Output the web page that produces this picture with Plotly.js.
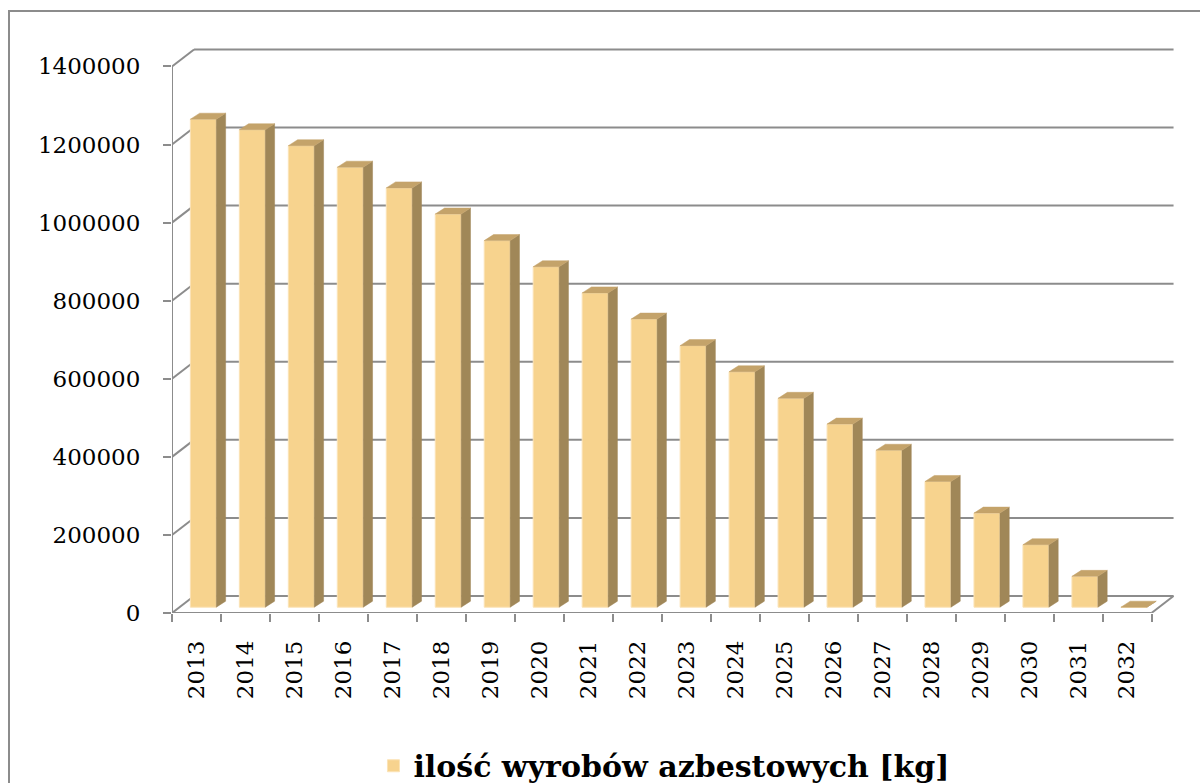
<!DOCTYPE html>
<html>
<head>
<meta charset="utf-8">
<script src="https://cdn.plot.ly/plotly-3.0.1.min.js"></script>
<style>
  html, body { margin: 0; padding: 0; background: #ffffff; overflow: hidden; }
  #chart { width: 1200px; height: 783px; position: relative; }
  #frame { position: absolute; left: 8px; top: 10px; width: 1300px; height: 900px;
           border: 2px solid #8c8c8c; pointer-events: none; }
</style>
</head>
<body>
<div id="chart"></div>
<div id="frame"></div>
<script>
// ---- data ----
const years = ['2013','2014','2015','2016','2017','2018','2019','2020','2021','2022',
               '2023','2024','2025','2026','2027','2028','2029','2030','2031','2032'];
const amounts = [1250000, 1223000, 1182000, 1127000, 1074000, 1007000, 939000, 872000, 805000, 738000,
                 670000, 603000, 535000, 469000, 402000, 322000, 241000, 160000, 79000, 0];
const yTickValues = [0, 200000, 400000, 600000, 800000, 1000000, 1200000, 1400000];
const seriesName = 'ilość wyrobów azbestowych [kg]';

// ---- pseudo-3D geometry (styles, in axis units) ----
const wallDx = 0.45, wallDy = 43500;        // depth of the floor / back wall
const barShift = 0.14, barBase = 14850;     // front face position of bars inside the depth
const barWidth = 0.53;
const barDx = 0.19, barDy = 15400;          // depth of a single bar
const gridColor = '#8c8c8c';
const frontColor = '#f7d38e', sideColor = '#a08758', topColor = '#c4a36a';

const idx = years.map((_, i) => i);
const xFirst = -0.5, xLast = years.length - 0.5;

// walls and grid as shapes below the traces
const shapes = [];
yTickValues.forEach(v => {
  shapes.push({type: 'line', layer: 'below', xref: 'x', yref: 'y',
    x0: xFirst + wallDx, y0: v + wallDy, x1: xLast + wallDx, y1: v + wallDy,
    line: {color: gridColor, width: 2}});
  shapes.push({type: 'line', layer: 'below', xref: 'x', yref: 'y',
    x0: xFirst, y0: v, x1: xFirst + wallDx, y1: v + wallDy,
    line: {color: gridColor, width: 2}});
});
const yMax = yTickValues[yTickValues.length - 1];
shapes.push({type: 'line', layer: 'below', xref: 'x', yref: 'y',
  x0: xFirst, y0: 0, x1: xFirst, y1: yMax, line: {color: gridColor, width: 2}});
shapes.push({type: 'line', layer: 'below', xref: 'x', yref: 'y',
  x0: xFirst, y0: 0, x1: xLast, y1: 0, line: {color: gridColor, width: 2}});
shapes.push({type: 'line', layer: 'below', xref: 'x', yref: 'y',
  x0: xLast, y0: 0, x1: xLast + wallDx, y1: wallDy, line: {color: gridColor, width: 2}});

// side and top faces computed from the data
const sideX = [], sideY = [], topX = [], topY = [];
idx.forEach(i => {
  const xl = i + barShift - barWidth / 2, xr = i + barShift + barWidth / 2;
  const b = barBase, t = barBase + amounts[i];
  sideX.push(xr, xr + barDx, xr + barDx, xr, xr, null);
  sideY.push(b, b + barDy, t + barDy, t, b, null);
  topX.push(xl, xr, xr + barDx, xl + barDx, xl, null);
  topY.push(t, t, t + barDy, t + barDy, t, null);
});

const traces = [
  {type: 'bar', name: seriesName, x: idx.map(i => i + barShift), y: amounts,
   base: amounts.map(() => barBase), width: barWidth,
   marker: {color: frontColor, line: {color: '#fbe3b6', width: 1}},
   hoverinfo: 'skip', showlegend: true},
  {type: 'scatter', mode: 'lines', x: sideX, y: sideY, fill: 'toself',
   fillcolor: sideColor, line: {width: 0.5, color: sideColor}, hoverinfo: 'skip', showlegend: false},
  {type: 'scatter', mode: 'lines', x: topX, y: topY, fill: 'toself',
   fillcolor: topColor, line: {width: 0.5, color: topColor}, hoverinfo: 'skip', showlegend: false},
  // invisible trace carrying the category labels on the overlay axis
  {type: 'scatter', mode: 'markers', x: idx, y: idx.map(() => 0), xaxis: 'x2',
   marker: {opacity: 0}, hoverinfo: 'skip', showlegend: false}
];

const tickFont = {family: 'DejaVu Serif, Liberation Serif, serif', size: 23, color: '#000000'};
const plotL = 172, plotR = 24, plotT = 43, plotB = 170;
const xRange = [xFirst, xLast + 0.5];

const layout = {
  width: 1200, height: 783,
  margin: {l: plotL, r: plotR, t: plotT, b: plotB, autoexpand: false},
  paper_bgcolor: 'rgba(0,0,0,0)', plot_bgcolor: 'rgba(0,0,0,0)',
  barmode: 'overlay',
  xaxis: {range: xRange, showgrid: false, zeroline: false, showline: false, automargin: false,
          tickmode: 'array', tickvals: idx.concat([years.length]).map(i => i - 0.5),
          showticklabels: false, ticks: 'outside', ticklen: 8, tickwidth: 2, tickcolor: gridColor,
          fixedrange: true},
  xaxis2: {overlaying: 'x', matches: 'x', anchor: 'y', side: 'bottom', range: xRange, automargin: false,
           showgrid: false, zeroline: false, showline: false,
           tickmode: 'array', tickvals: idx, ticktext: years, ticks: '',
           tickangle: -90, tickfont: tickFont, ticklabelstandoff: 22},
  yaxis: {range: [0, yMax + 60000], showgrid: false, zeroline: false, showline: false, automargin: false,
          tickmode: 'array', tickvals: yTickValues, ticktext: yTickValues.map(String),
          ticks: 'outside', ticklen: 8, tickwidth: 2, tickcolor: gridColor,
          tickfont: tickFont, ticklabelstandoff: 18, fixedrange: true},
  shapes: shapes,
  showlegend: true,
  legend: {orientation: 'h', x: 0.49, xanchor: 'center', y: -0.268, yanchor: 'middle',
           font: {family: 'DejaVu Serif, Liberation Serif, serif', size: 30, weight: 'bold', color: '#000000'},
           bgcolor: 'rgba(0,0,0,0)'}
};

Plotly.newPlot('chart', traces, layout, {displayModeBar: false, staticPlot: true});
</script>
</body>
</html>
